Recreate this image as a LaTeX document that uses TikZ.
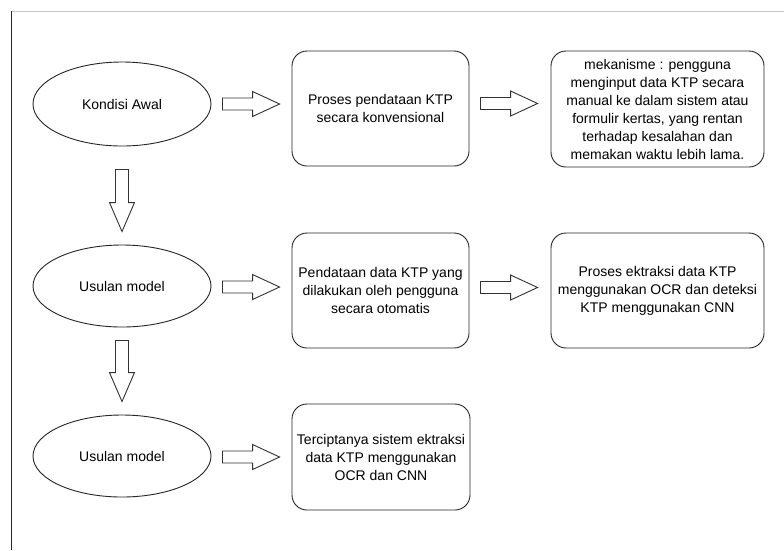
\documentclass[tikz,border=0pt]{standalone}
\usepackage{fontspec}
\setmainfont{Liberation Sans}
\usetikzlibrary{shapes.geometric,calc}
\newcommand\rblk[2]{\draw[blk] let \p1=#1, \p2=#2 in (\x1,\y1+6pt) -- (\x2-27pt,\y1+6pt) -- (\x2-27pt,\y1+12.5pt) -- (\x2,\y1) -- (\x2-27pt,\y1-12.5pt) -- (\x2-27pt,\y1-6pt) -- (\x1,\y1-6pt) -- cycle;}
\newcommand\dblk[2]{\draw[blk] let \p1=#1, \p2=#2 in (\x1-6.5pt,\y1) -- (\x1-6.5pt,\y2+29pt) -- (\x1-12.5pt,\y2+29pt) -- (\x1,\y2) -- (\x1+12.5pt,\y2+29pt) -- (\x1+6.5pt,\y2+29pt) -- (\x1+6.5pt,\y1) -- cycle;}
\begin{document}
\begin{tikzpicture}[x=1pt,y=-1pt,
  ell/.style={draw=black!85, line width=0.9pt, ellipse, minimum width=178pt, minimum height=82pt, inner sep=0pt, font=\fontsize{14}{18}\selectfont},
  box/.style={draw=black!85, line width=0.9pt, rounded corners=15pt, minimum width=177pt, minimum height=115pt, align=center, inner sep=0pt, font=\fontsize{14}{18}\selectfont},
  blk/.style={draw=black!80, line width=0.9pt, line join=miter}]
\useasboundingbox (0,0) rectangle (784,550);
\fill[white] (0,0) rectangle (784,550);
\draw[gray!45] (11,11) -- (784,11);
\draw[black!85, line width=0.9pt] (11,11) -- (11,550);

\node[ell, minimum height=84pt] (e1) at (122,104) {Kondisi Awal};
\node[ell] (e2) at (122,286) {Usulan model};
\node[ell] (e3) at (122,456) {Usulan model};

\node[box] (b1) at (380.5,108.5) {Proses pendataan KTP\\secara konvensional};
\node[box, minimum width=213pt, minimum height=116pt] (b2) at (657.5,109) {mekanisme : pengguna\\menginput data KTP secara\\manual ke dalam sistem atau\\formulir kertas, yang rentan\\terhadap kesalahan dan\\memakan waktu lebih lama.};
\node[box] (b3) at (380.5,290.5) {Pendataan data KTP yang\\dilakukan oleh pengguna\\secara otomatis};
\node[box, minimum width=213pt] (b4) at (657.5,290.5) {Proses ektraksi data KTP\\menggunakan OCR dan deteksi\\KTP menggunakan CNN};
\node[box, minimum width=178pt, minimum height=106pt] (b5) at (381,457) {Terciptanya sistem ektraksi\\data KTP menggunakan\\OCR dan CNN};

\rblk{($(e1.east)+(11,0)$)}{($(b1.west)+(-12,0)$)}
\rblk{($(b1.east)+(11,-5)$)}{($(b2.west)+(-13,0)$)}
\rblk{($(e2.east)+(11,1)$)}{($(b3.west)+(-12,0)$)}
\rblk{($(b3.east)+(11,-3)$)}{($(b4.west)+(-13,0)$)}
\rblk{($(e3.east)+(11,1)$)}{($(b5.west)+(-12,0)$)}

\dblk{($(e1.south)+(0,23)$)}{($(e2.north)+(0,-13)$)}
\dblk{($(e2.south)+(0,13)$)}{($(e3.north)+(0,-13)$)}
\end{tikzpicture}
\end{document}
